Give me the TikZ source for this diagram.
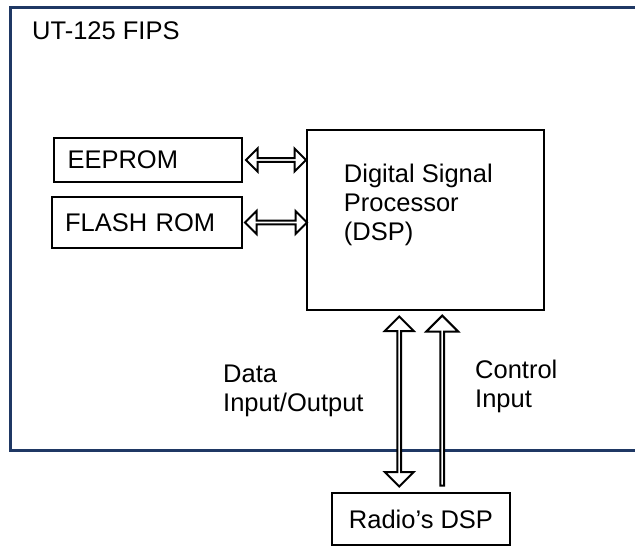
\documentclass[tikz,border=0pt]{standalone}
\usepackage{fontspec}
\setmainfont{Liberation Sans}
\usetikzlibrary{positioning, shapes.arrows, calc}
\definecolor{framenavy}{RGB}{31,56,100}
\tikzset{
  txt/.style={font=\fontsize{25.5}{29}\selectfont, inner sep=0pt, align=left},
  box/.style={draw, line width=2.5pt, font=\fontsize{25.5}{29}\selectfont, inner xsep=13pt, align=left},
  frame/.style={draw=framenavy, line width=3pt},
  biarr/.style={double arrow, draw, fill=white, line width=2pt, inner sep=0pt, outer sep=0pt},
  uniarr/.style={single arrow, draw, fill=white, line width=2pt, inner sep=0pt, outer sep=0pt}
}

\begin{document}
\begin{tikzpicture}[x=1pt, y=-1pt]
\useasboundingbox (0,0) rectangle (635,547);
% outer module outline, open to the right
\draw[frame] (635,7) -- (10,7) -- (10,450) -- (635,450);
\node[txt, anchor=north west] (fips) at (32,21) {UT-125 FIPS};
\node[box, minimum width=188pt, minimum height=44pt, text width=161pt] (eeprom) at (148,160) {EEPROM};
\node[box, minimum width=190pt, minimum height=51pt, text width=164pt] (flash) at (147,222.5) {FLASH ROM};
\node[box, minimum width=237pt, minimum height=180pt] (dsp) at (425.5,220) {};
\node[txt, anchor=north west] (dsplbl) at ($(dsp.north west)+(38,35)$) {Digital Signal\\Processor\\(DSP)};
\node[box, minimum width=178pt, minimum height=52pt, align=center] (radio) at (421,519) {Radio’s DSP};
% block arrows
\node[biarr, minimum width=23pt, double arrow head extend=5.5pt, minimum height=60pt]
  (eearr) at ($(eeprom.east)!0.5!(eeprom.east -| dsp.west)+(1.5,0)$) {};
\node[biarr, minimum width=23pt, double arrow head extend=5.5pt, minimum height=62pt]
  (flarr) at ($(flash.east)!0.5!(flash.east -| dsp.west)+(1.5,0)$) {};
\node[biarr, rotate=90, minimum width=29pt, double arrow head extend=7pt, minimum height=170pt]
  (ioarr) at ($(dsp.south)!0.5!(radio.north)+(-24,0)$) {};
\node[uniarr, rotate=90, minimum width=32pt, single arrow head extend=8pt, minimum height=170pt]
  (ctlarr) at ($(dsp.south)!0.5!(radio.north)+(19,0)$) {};
\node[txt, anchor=north west] (iolbl) at (223,365) {Data\\Input/Output};
\node[txt, anchor=north west] (ctllbl) at (475,360) {Control\\Input};
\end{tikzpicture}
\end{document}
